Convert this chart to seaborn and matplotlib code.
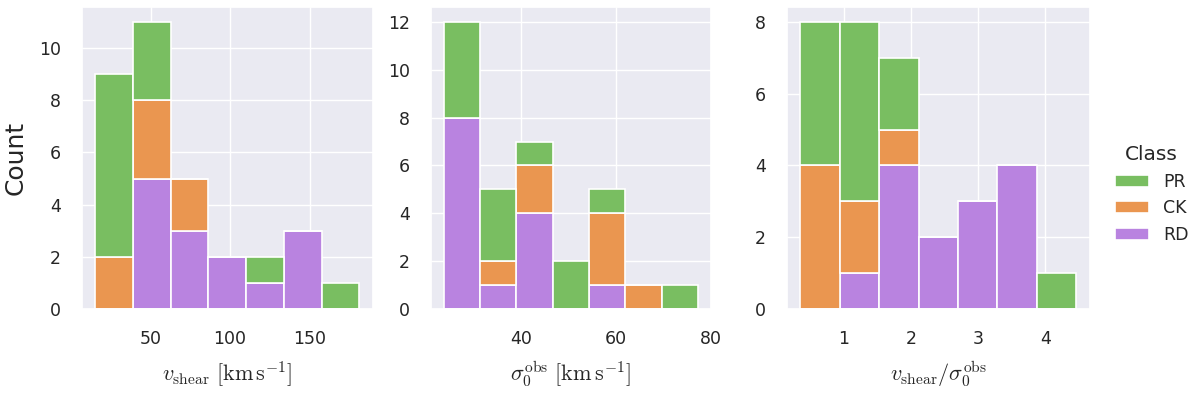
import numpy as np
import pandas as pd
import seaborn as sns
import matplotlib
matplotlib.use("Agg")
import matplotlib.pyplot as plt

# ---------------- data ----------------
classes = ["PR", "CK", "RD"]
colors = ["#79BE61", "#EA9650", "#B983E0"]

# panel 1: v_shear [km/s]
edges_vshear = np.linspace(15.0, 181.4, 8)
vshear_PR = [7, 3, 0, 0, 1, 0, 1]
vshear_CK = [2, 3, 2, 0, 0, 0, 0]
vshear_RD = [0, 5, 3, 2, 1, 3, 0]

# panel 2: sigma_0^obs [km/s]
edges_sigma = np.linspace(23.7, 77.3, 8)
sigma_PR = [4, 3, 1, 2, 1, 0, 1]
sigma_CK = [0, 1, 2, 0, 3, 1, 0]
sigma_RD = [8, 1, 4, 0, 1, 0, 0]

# panel 3: v_shear / sigma_0^obs
edges_ratio = np.linspace(0.355, 4.462, 8)
ratio_PR = [4, 5, 2, 0, 0, 0, 1]
ratio_CK = [4, 2, 1, 0, 0, 0, 0]
ratio_RD = [0, 1, 4, 2, 3, 4, 0]

xlabels = [r"$v_{\rm shear}\ [{\rm km\,s^{-1}}]$",
           r"$\sigma_0^{\rm obs}\ [{\rm km\,s^{-1}}]$",
           r"$v_{\rm shear}/\sigma_0^{\rm obs}$"]
xticks = [[50, 100, 150], [40, 60, 80], [1, 2, 3, 4]]
yticks = [[0, 2, 4, 6, 8, 10], [0, 2, 4, 6, 8, 10, 12], [0, 2, 4, 6, 8]]


def make_frame(edges, pr, ck, rd):
    centers = 0.5 * (edges[:-1] + edges[1:])
    rows = []
    for cls, counts in zip(classes, [pr, ck, rd]):
        for c, n in zip(centers, counts):
            rows.append({"value": float(c), "count": n, "Class": cls})
    return pd.DataFrame(rows)


panels = [
    (edges_vshear, make_frame(edges_vshear, vshear_PR, vshear_CK, vshear_RD)),
    (edges_sigma, make_frame(edges_sigma, sigma_PR, sigma_CK, sigma_RD)),
    (edges_ratio, make_frame(edges_ratio, ratio_PR, ratio_CK, ratio_RD)),
]

# ---------------- plot ----------------
sns.set_theme(style="darkgrid")
plt.rcParams["font.family"] = ["DejaVu Sans"]
plt.rcParams["mathtext.fontset"] = "cm"

fig = plt.figure(figsize=(12, 3.94), dpi=100)
W, H = 1200, 394
boxes = [(81.7, 291.0), (431.0, 279.7), (786.7, 303.3)]
top, bottom = 7.3, 309.3
axes = []
for (l, w) in boxes:
    axes.append(fig.add_axes([l / W, (H - bottom) / H, w / W, (bottom - top) / H]))

palette = dict(zip(classes, colors))
for i, (ax, (edges, df)) in enumerate(zip(axes, panels)):
    sns.histplot(data=df, x="value", weights="count", hue="Class",
                 hue_order=classes, palette=palette, multiple="stack",
                 bins=[float(e) for e in edges], alpha=1.0,
                 edgecolor="white", linewidth=1.2,
                 ax=ax, legend=(i == 2))
    ax.set_xticks(xticks[i])
    ax.set_yticks(yticks[i])
    ax.tick_params(axis="both", length=0, pad=15, labelsize=12.5)
    ax.set_xlabel(xlabels[i], fontsize=16, labelpad=8)
    if i == 0:
        ax.set_ylabel("Count", fontsize=18, labelpad=8)
    else:
        ax.set_ylabel("")

sns.move_legend(axes[2], "center left", bbox_to_anchor=(1.03, 0.38),
                frameon=False, title="Class", fontsize=12.5,
                title_fontsize=14.5, handlelength=2.0)

fig.savefig("out.png", dpi=100)
